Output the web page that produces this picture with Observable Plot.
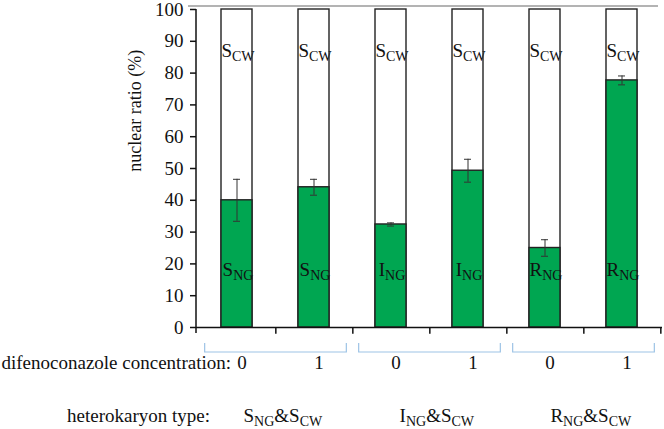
<!DOCTYPE html>
<html>
<head>
<meta charset="utf-8">
<script src="https://cdn.jsdelivr.net/npm/d3@7"></script>
<script src="https://cdn.jsdelivr.net/npm/@observablehq/plot@0.6"></script>
<style>
  html, body { margin: 0; padding: 0; background: #fff; }
  svg { display: block; }
  svg text { font-family: "Liberation Serif", "DejaVu Serif", serif !important; }
</style>
</head>
<body>
<div id="chart"></div>
<script>
// ---- data ----
const categories = ["S0", "S1", "I0", "I1", "R0", "R1"];
const concentrations = ["0", "1", "0", "1", "0", "1"];
const ngLabels = ["S_NG", "S_NG", "I_NG", "I_NG", "R_NG", "R_NG"];
const cwLabels = ["S_CW", "S_CW", "S_CW", "S_CW", "S_CW", "S_CW"];
const ngValues = [40, 44.1, 32.4, 49.3, 25, 77.7];
const ngErrors = [6.6, 2.5, 0.5, 3.6, 2.6, 1.4];
const groupLabels = ["S_NG&S_CW", "I_NG&S_CW", "R_NG&S_CW"];
const groupFirst = ["S0", "I0", "R0"];
const groupLast = ["S1", "I1", "R1"];
const yTicks = [0, 10, 20, 30, 40, 50, 60, 70, 80, 90, 100];
const yLabel = "nuclear ratio (%)";
const rowLabel1 = "difenoconazole concentration:";
const rowLabel2 = "heterokaryon type:";

const rows = categories.map((c, i) => ({
  cat: c, conc: concentrations[i], ng: ngValues[i], err: ngErrors[i],
  ngLabel: ngLabels[i], cwLabel: cwLabels[i]
}));
const groups = groupLabels.map((g, i) => ({label: g, first: groupFirst[i], last: groupLast[i]}));

const W = 664, H = 429;
const mL = 196, mR = 2, mT = 9, mB = 102;
const step = (W - mL - mR) / 6;
const FONT = "Liberation Serif";
const FS = 19;
const GREEN = "#00A651";

const extras = (index, scales, values, dimensions) => {
  const g = d3.create("svg:g");
  const x = scales.x, y = scales.y;
  const bw = x.bandwidth ? x.bandwidth() : step * 0.4;
  const y0 = y(0), y100 = y(100);
  g.append("line").attr("x1", dimensions.marginLeft).attr("x2", dimensions.marginLeft)
    .attr("y1", y100).attr("y2", y0 + 6).attr("stroke", "#111").attr("stroke-width", 1.5);
  g.append("line").attr("x1", dimensions.marginLeft - 8).attr("x2", dimensions.width - 6)
    .attr("y1", y100 - 3).attr("y2", y100 - 3).attr("stroke", "#9a9a9a").attr("stroke-width", 1.5);
  for (const gr of groups) {
    const left = x(gr.first) - (step - bw) / 2 + 7;
    const right = x(gr.last) + bw + (step - bw) / 2 - 6;
    const top = y0 + 16, bot = y0 + 25;
    g.append("path")
      .attr("d", `M${left},${top}V${bot}H${right}V${top}`)
      .attr("fill", "none").attr("stroke", "#9DC3E6").attr("stroke-width", 1.2);
  }
  return g.node();
};

const common = {fontFamily: FONT, fontSize: FS, fill: "#111"};

const chart = Plot.plot({
  width: W, height: H,
  marginLeft: mL, marginRight: mR, marginTop: mT, marginBottom: mB,
  style: {fontFamily: FONT, fontSize: FS + "px", color: "#111", background: "white"},
  x: {type: "band", domain: categories, paddingInner: 0.6, paddingOuter: 0.3, axis: null},
  y: {domain: [0, 100], axis: null},
  marks: [
    Plot.barY(rows, {x: "cat", y1: 0, y2: 100, fill: "white", stroke: "#222", strokeWidth: 1.4}),
    Plot.barY(rows, {x: "cat", y1: 0, y2: "ng", fill: GREEN, stroke: "#222", strokeWidth: 1.4}),
    Plot.ruleX(rows, {x: "cat", y1: d => d.ng - d.err, y2: d => d.ng + d.err, stroke: "#333", strokeWidth: 1}),
    Plot.tickY(rows, {x: "cat", y: d => d.ng + d.err, stroke: "#333", strokeWidth: 1, insetLeft: 12, insetRight: 12}),
    Plot.tickY(rows, {x: "cat", y: d => d.ng - d.err, stroke: "#333", strokeWidth: 1, insetLeft: 12, insetRight: 12}),
    Plot.text(rows, {x: "cat", y: 87, text: "cwLabel", dx: 1, ...common}),
    Plot.text(rows, {x: "cat", y: 18, text: "ngLabel", dx: 1, ...common}),
    Plot.axisY({ticks: yTicks, tickSize: 6, tickPadding: 7, fontSize: FS, fontFamily: FONT, label: null, stroke: "#111", strokeWidth: 1.5}),
    Plot.ruleY([0], {stroke: "#111", strokeWidth: 1.5}),
    Plot.ruleX(categories, {x: d => d, y1: 0, y2: -2.1, dx: step / 2, stroke: "#111", strokeWidth: 1.5}),
    Plot.text(rows, {x: "cat", y: -11, text: "conc", dx: 5, ...common}),
    Plot.text([rowLabel1], {frameAnchor: "left", y: -11, dx: -mL + 1, textAnchor: "start", ...common}),
    Plot.text([rowLabel2], {frameAnchor: "left", y: -27.7, dx: -mL + 138, textAnchor: "middle", ...common}),
    Plot.text(groups, {x: "first", y: -27.7, text: "label", dx: step / 2 + 7, ...common}),
    Plot.text([yLabel], {frameAnchor: "left", y: 49, dx: -61, rotate: -90, ...common, fontSize: 18}),
    extras
  ]
});

// subscripts: "X_AB" -> X with subscript AB
const NS = "http://www.w3.org/2000/svg";
d3.select(chart).selectAll("text").each(function () {
  const el = this;
  if (el.querySelector("tspan")) return;
  const t = el.textContent;
  if (!/_/.test(t)) return;
  el.textContent = "";
  const re = /([^_]*?)([A-Z])_([A-Z]+)/g;
  let m, last = 0, pending = 0;
  const add = (txt, opts = {}) => {
    const s = document.createElementNS(NS, "tspan");
    s.textContent = txt;
    let dy = pending + (opts.dy || 0);
    if (dy) s.setAttribute("dy", dy);
    if (opts.size) s.setAttribute("font-size", opts.size);
    pending = 0;
    el.appendChild(s);
  };
  while ((m = re.exec(t)) !== null) {
    if (m[1]) add(m[1]);
    add(m[2]);
    add(m[3], {dy: 4, size: 14});
    pending = -4;
    last = re.lastIndex;
  }
  if (last < t.length) add(t.slice(last));
});

document.getElementById("chart").appendChild(chart);
</script>
</body>
</html>
